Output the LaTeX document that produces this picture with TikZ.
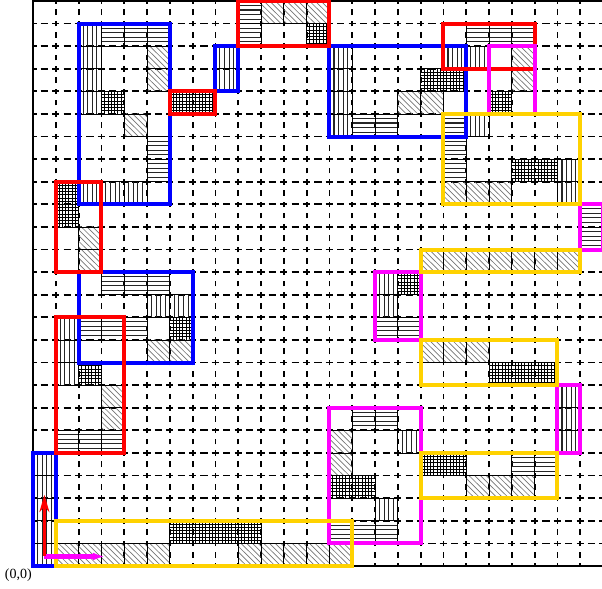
\documentclass[tikz,border=0pt]{standalone}
\usepackage{fontspec}
\setmainfont{Liberation Serif}
\usetikzlibrary{arrows.meta}
\definecolor{boxyellow}{RGB}{255,210,0}
\definecolor{boxmagenta}{RGB}{255,0,255}
\definecolor{boxblue}{RGB}{0,0,255}
\definecolor{boxred}{RGB}{255,0,0}
\tikzset{
  gridv/.style={line width=1.35pt, dash pattern=on 4.2pt off 4.275pt, dash phase=2.1pt},
  gridh/.style={line width=1.35pt, dash pattern=on 5.5pt off 3.05pt, dash phase=2.75pt},
  gridborder/.style={line width=1.2pt},
  hatchline/.style={line width=0.8pt, black!85},
  crossline/.style={line width=0.55pt, black},
  diagline/.style={line width=0.5pt, black!55},
  cellframe/.style={line width=0.65pt, black},
  bluebox/.style={draw=boxblue, line width=3pt},
  redbox/.style={draw=boxred, line width=3pt},
  magbox/.style={draw=boxmagenta, line width=3pt},
  yelbox/.style={draw=boxyellow, line width=3pt},
}
\newcommand\HatchH[2]{%
  \foreach \k in {0.2,0.4,0.6,0.8} \draw[hatchline] (#1,#2+\k) -- (#1+1,#2+\k);
  \draw[cellframe] (#1,#2) rectangle (#1+1,#2+1);}
\newcommand\HatchV[2]{%
  \foreach \k in {0.2,0.4,0.6,0.8} \draw[hatchline] (#1+\k,#2) -- (#1+\k,#2+1);
  \draw[cellframe] (#1,#2) rectangle (#1+1,#2+1);}
\newcommand\HatchG[2]{%
  \foreach \k in {0.1429,0.2857,0.4286,0.5714,0.7143,0.8571} {%
    \draw[crossline] (#1+\k,#2) -- (#1+\k,#2+1);
    \draw[crossline] (#1,#2+\k) -- (#1+1,#2+\k);}
  \draw[cellframe] (#1,#2) rectangle (#1+1,#2+1);}
\newcommand\HatchD[2]{%
  \begin{scope}
    \clip (#1,#2) rectangle (#1+1,#2+1);
    \foreach \c in {0.125,0.375,0.625,0.875,1.125,1.375,1.625,1.875}
      \draw[diagline] (#1,#2+\c) -- (#1+\c,#2);
  \end{scope}
  \draw[cellframe] (#1,#2) rectangle (#1+1,#2+1);}
\begin{document}
\begin{tikzpicture}[x=17.1pt,y=16.95pt]
\useasboundingbox (-24.75pt,-16.5pt) rectangle (426.75pt,424.5pt);
% grid
\foreach \i in {1,...,24} \draw[gridv] (\i,0) -- (\i,25);
\foreach \j in {1,...,24} \draw[gridh] (0,\j) -- (25,\j);
\draw[gridborder] (25.3,0) -- (0,0) -- (0,25) -- (25.3,25);
% hatched cells
\foreach \x/\y in {1/5,2/5,3/5, 2/10,3/10,4/10, 3/12,4/12,5/12, 5/17,5/18, 3/23,4/23,5/23,
  9/23,9/24, 14/19,15/19, 19/23,20/23,21/23, 18/17,18/18,18/19, 24/14,24/15,
  15/10,16/10, 14/6,15/6, 13/1,14/1,15/1, 21/4,22/4} {\HatchH{\x}{\y}}
\foreach \x/\y in {0/0,0/1,0/2,0/3,0/4, 1/8,1/9,1/10, 5/11,6/11, 2/16,3/16,4/16,
  2/20,2/21,2/22,2/23, 8/21,8/22, 13/19,13/20,13/21,13/22, 18/22,19/22, 19/19,
  23/16,23/17, 15/11,15/12, 23/5,23/6,23/7, 16/5, 15/2} {\HatchV{\x}{\y}}
\foreach \x/\y in {6/1,7/1,8/1,9/1, 2/8, 6/10, 1/15,1/16, 3/20, 6/20,7/20, 12/23,
  17/21,18/21, 20/20, 21/17,22/17, 16/12, 20/8,21/8,22/8, 17/4,18/4, 13/3,14/3} {\HatchG{\x}{\y}}
\foreach \x/\y in {1/0,2/0,3/0,4/0,5/0, 9/0,10/0,11/0,12/0,13/0, 3/6,3/7, 5/9,6/9,
  2/13,2/14, 4/19, 5/21,5/22, 10/24,11/24,12/24, 16/20,17/20, 21/21,21/22,
  18/16,19/16,20/16, 17/13,18/13,19/13,20/13,21/13,22/13,23/13, 17/9,18/9,19/9,
  19/3,20/3,21/3, 13/4,13/5} {\HatchD{\x}{\y}}
% coloured boxes
\draw[bluebox] (0,0) rectangle (1,5);
\draw[bluebox] (2,9) rectangle (7,13);
\draw[bluebox] (2,16) rectangle (6,24);
\draw[bluebox] (8,21) rectangle (9,23);
\draw[bluebox] (13,19) rectangle (19,23);
\draw[redbox] (1,5) rectangle (4,11);
\draw[redbox] (1,13) rectangle (3,17);
\draw[redbox] (6,20) rectangle (8,21);
\draw[redbox] (9,23) rectangle (13,25);
\draw[redbox] (18,22) rectangle (22,24);
\draw[magbox] (20,20) rectangle (22,23);
\draw[magbox] (24,14) rectangle (25,16);
\draw[magbox] (15,10) rectangle (17,13);
\draw[magbox] (23,5) rectangle (24,8);
\draw[magbox] (13,1) rectangle (17,7);
\draw[yelbox] (1,0) rectangle (14,2);
\draw[yelbox] (18,16) rectangle (24,20);
\draw[yelbox] (17,13) rectangle (24,14);
\draw[yelbox] (17,8) rectangle (23,10);
\draw[yelbox] (17,3) rectangle (23,5);
% arrows
\coordinate (ystart) at (0.5,0.45);
\coordinate (ytip) at (0.5,3.15);
\coordinate (xstart) at (0.5,0.42);
\coordinate (xtip) at (3.15,0.42);
\draw[boxmagenta, line width=3.3pt, -{Latex[length=9pt,width=6pt]}] (xstart) -- (xtip);
\draw[boxred, line width=2pt, -{Stealth[length=13pt,width=7.5pt]}] (ystart) -- (ytip);
% origin label
\node[font=\fontsize{10.5}{12}\selectfont, inner sep=0pt] (origin) at (-0.64,-0.40) {(0,0)};
\end{tikzpicture}
\end{document}
